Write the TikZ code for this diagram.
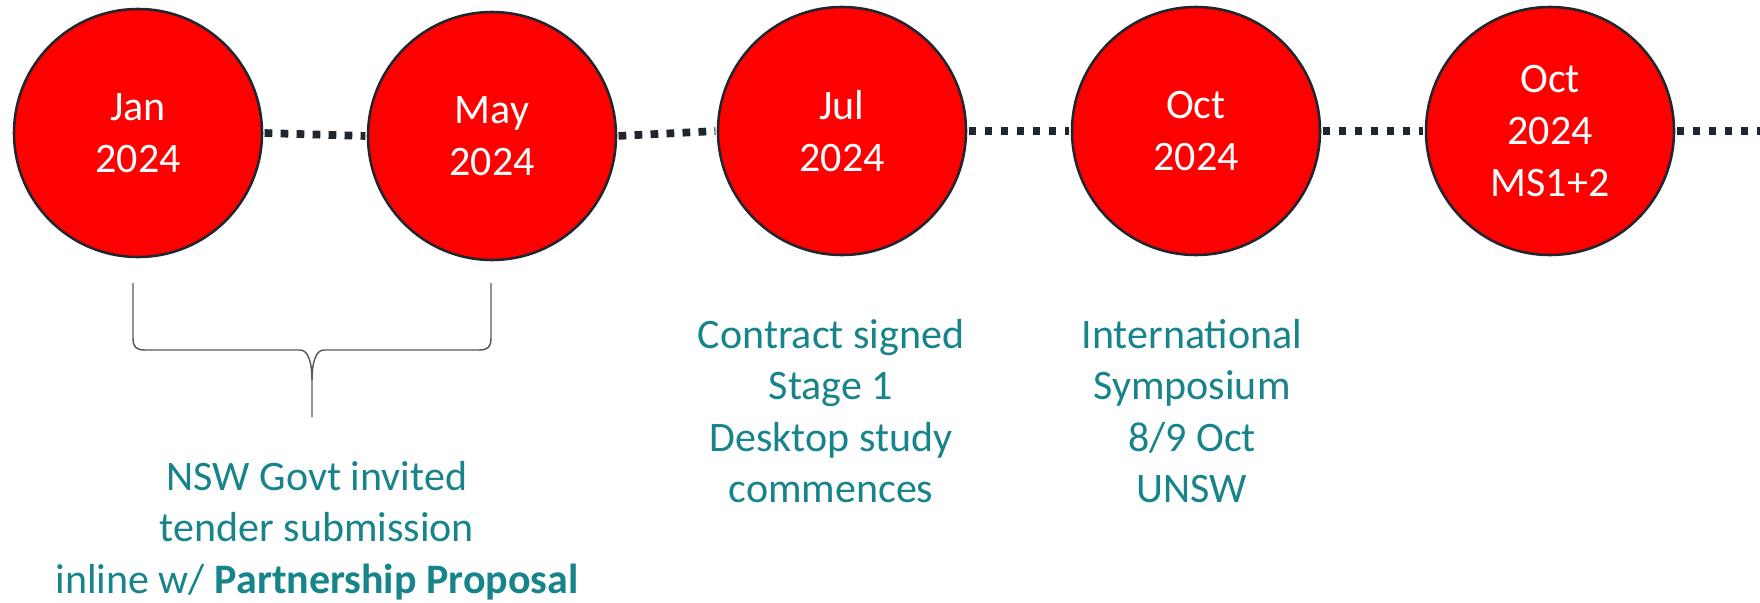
\documentclass[tikz,border=0pt]{standalone}
\usepackage{fontspec}
\setmainfont{Carlito}
\definecolor{tealtxt}{RGB}{22,132,138}
\definecolor{dotc}{RGB}{31,38,45}
\definecolor{bracec}{RGB}{85,90,95}
\begin{document}
\begin{tikzpicture}[x=0.75pt,y=-0.75pt,
  milestone/.style={circle, draw=dotc, line width=1.9pt, fill=red, minimum size=186pt,
    inner sep=0pt, text=white, align=center, font=\fontsize{31.5}{39}\selectfont},
  note/.style={text=tealtxt, align=center, anchor=north, inner sep=0pt,
    font=\fontsize{31.5}{38.5}\selectfont},
  link/.style={draw=dotc, line width=5.8pt, dash pattern=on 5.8pt off 6.2pt,
    shorten <=1pt, shorten >=1pt},
  bracel/.style={draw=bracec, line width=1.1pt}]
\useasboundingbox (0,0) rectangle (1760,603);
\node[milestone] (c1) at (138,133) {Jan\\2024};
\node[milestone] (c2) at (492,136) {May\\2024};
\node[milestone] (c3) at (842,131) {Jul\\2024};
\node[milestone] (c4) at (1196,131) {Oct\\2024};
\node[milestone] (c5) at (1550,131) {Oct\\2024\\MS1+2};
\coordinate (tail) at (1762,131);
\draw[link] (c1.east) -- (c2.west);
\draw[link] (c2.east) -- (c3.west);
\draw[link] (c3.east) -- (c4.west);
\draw[link] (c4.east) -- (c5.west);
\draw[link] (c5.east) -- (tail);
% brace
\draw[bracel] (133,283) -- (133,338) .. controls (133,347) and (136,350) .. (145,350)
  -- (300,350) .. controls (308,350) and (312,362) .. (312,380) -- (312,417);
\draw[bracel] (491,283) -- (491,338) .. controls (491,347) and (488,350) .. (479,350)
  -- (324,350) .. controls (316,350) and (312,362) .. (312,380);
% notes
\node[note] (t1) at (317,461) {NSW Govt invited\\tender submission\\inline w/ \textbf{Partnership Proposal}};
\node[note] (t2) at (831,319) {Contract signed\\Stage 1\\Desktop study\\commences};
\node[note] (t3) at (1192,319) {International\\Symposium\\8/9 Oct\\UNSW};
\end{tikzpicture}
\end{document}
